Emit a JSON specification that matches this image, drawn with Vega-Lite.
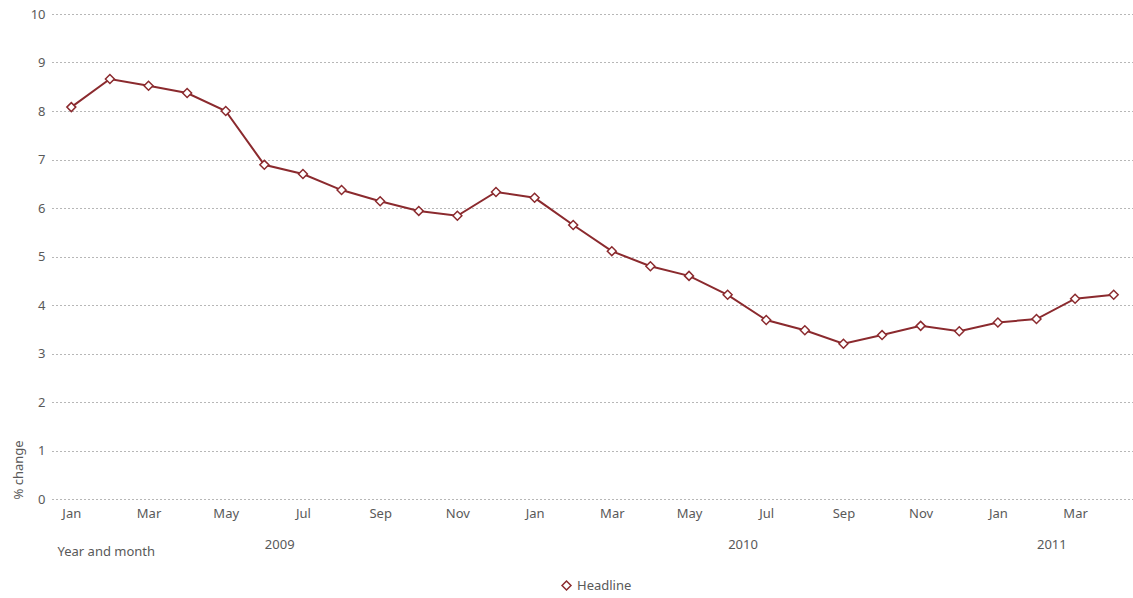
{
  "$schema": "https://vega.github.io/schema/vega-lite/v6.json",
  "width": 1081,
  "height": 485,
  "autosize": "none",
  "padding": {"left": 52, "top": 14, "right": 0, "bottom": 99},
  "config": {
    "view": {"stroke": null},
    "font": "Noto Sans",
    "axis": {"labelColor": "#595959", "titleColor": "#595959", "labelFontSize": 13, "titleFontSize": 13, "titleFontWeight": "normal", "ticks": false, "domain": false}
  },
  "data": {
    "values": [
      {"month": "2009-01", "value": 8.08},
      {"month": "2009-02", "value": 8.66},
      {"month": "2009-03", "value": 8.52},
      {"month": "2009-04", "value": 8.37},
      {"month": "2009-05", "value": 8.0},
      {"month": "2009-06", "value": 6.89},
      {"month": "2009-07", "value": 6.7},
      {"month": "2009-08", "value": 6.37},
      {"month": "2009-09", "value": 6.14},
      {"month": "2009-10", "value": 5.94},
      {"month": "2009-11", "value": 5.84},
      {"month": "2009-12", "value": 6.33},
      {"month": "2010-01", "value": 6.21},
      {"month": "2010-02", "value": 5.65},
      {"month": "2010-03", "value": 5.11},
      {"month": "2010-04", "value": 4.8},
      {"month": "2010-05", "value": 4.6},
      {"month": "2010-06", "value": 4.21},
      {"month": "2010-07", "value": 3.69},
      {"month": "2010-08", "value": 3.48},
      {"month": "2010-09", "value": 3.2},
      {"month": "2010-10", "value": 3.38},
      {"month": "2010-11", "value": 3.57},
      {"month": "2010-12", "value": 3.46},
      {"month": "2011-01", "value": 3.64},
      {"month": "2011-02", "value": 3.71},
      {"month": "2011-03", "value": 4.13},
      {"month": "2011-04", "value": 4.21}
    ]
  },
  "layer": [
    {
      "mark": {"type": "line", "strokeWidth": 2},
      "encoding": {
        "x": {
          "field": "month", "type": "ordinal",
          "scale": {"type": "point", "padding": 0.5},
          "axis": {
            "orient": "bottom", "title": null, "labelAngle": 0, "labelPadding": 8, "grid": false,
            "labelExpr": "indexof(['01','03','05','07','09','11'], slice(datum.value,5)) >= 0 ? ['Jan','Feb','Mar','Apr','May','Jun','Jul','Aug','Sep','Oct','Nov','Dec'][toNumber(slice(datum.value,5))-1] : ''"
          }
        },
        "y": {
          "field": "value", "type": "quantitative",
          "scale": {"domain": [0, 10]},
          "axis": {
            "values": [0,1,2,3,4,5,6,7,8,9,10],
            "title": "% change", "titleAngle": -90, "titleAnchor": "start", "titleAlign": "left", "titleBaseline": "middle", "titleX": -34, "titleY": 485,
            "labelPadding": 7, "grid": true, "gridColor": "#6e6e6e", "gridDash": [1, 3], "gridWidth": 1
          }
        },
        "stroke": {
          "datum": "Headline", "type": "nominal",
          "scale": {"range": ["#8B2A2E"]},
          "legend": {
            "title": null, "orient": "none", "legendX": 508, "legendY": 565,
            "symbolType": "diamond", "symbolFillColor": "white", "symbolStrokeWidth": 1.5, "symbolSize": 80,
            "labelFontSize": 13, "labelColor": "#595959"
          }
        }
      }
    },
    {
      "mark": {"type": "point", "shape": "diamond", "filled": true, "fill": "white", "size": 80, "strokeWidth": 1.5, "opacity": 1},
      "encoding": {
        "x": {"field": "month", "type": "ordinal", "axis": null},
        "y": {"field": "value", "type": "quantitative"},
        "stroke": {"datum": "Headline", "type": "nominal"}
      }
    },
    {
      "data": {"values": [{"month": "2009-06"}, {"month": "2010-06"}, {"month": "2011-02"}]},
      "mark": {"type": "rule", "opacity": 0},
      "encoding": {
        "x": {
          "field": "month", "type": "ordinal",
          "axis": {
            "orient": "bottom",
            "values": ["2009-06", "2010-06", "2011-02"],
            "title": "Year and month", "titleAnchor": "start", "titleAlign": "left", "titleBaseline": "middle", "titleX": 5, "titleY": 52,
            "labelAngle": 0, "labelAlign": "left", "labelBaseline": "middle", "labelPadding": 45, "grid": false,
            "labelExpr": "slice(datum.value,0,4)"
          }
        }
      }
    }
  ],
  "resolve": {"axis": {"x": "independent"}}
}
